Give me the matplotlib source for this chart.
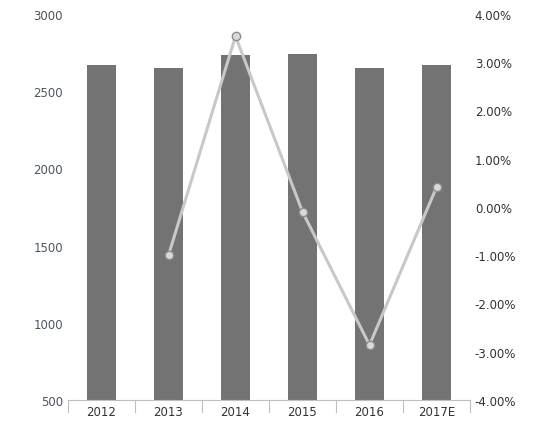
import matplotlib
matplotlib.use("Agg")
import matplotlib.pyplot as plt
import numpy as np

years = ["2012", "2013", "2014", "2015", "2016", "2017E"]
volume = [2670, 2650, 2735, 2738, 2652, 2670]
growth_years = ["2013", "2014", "2015", "2016", "2017E"]
growth = [-1.0, 3.54, -0.10, -2.86, 0.41]

fig = plt.figure(figsize=(5.35, 4.31), dpi=100)
ax = fig.add_axes([68/535, 30/431, 402/535, 386/431])
x = np.arange(len(years))
ax.bar(x, volume, width=0.43, color="#737373", bottom=0)
ax.set_ylim(500, 3000)
ax.set_xlim(-0.5, len(years) - 0.5)
ax.set_yticks(range(500, 3001, 500))
ax.set_xticks(x)
ax.set_xticklabels(years)
ax.tick_params(axis="both", length=0, labelsize=8.5, colors="#333333")
ax.tick_params(axis="y", colors="#4a5560")
for s in ["top", "right", "left"]:
    ax.spines[s].set_visible(False)
ax.spines["bottom"].set_color("#bfbfbf")
for xb in np.arange(-0.5, len(years), 1):
    ax.plot([xb, xb], [500, 420], color="#bfbfbf", lw=0.8, clip_on=False)

ax2 = ax.twinx()
gx = [years.index(y) for y in growth_years]
ax2.plot(gx, growth, color="#c8c8c8", lw=2.2, marker="o", markersize=6,
         markerfacecolor="#d9d9d9", markeredgecolor="#8c8c8c", markeredgewidth=1)
ax2.set_ylim(-4, 4)
ax2.set_yticks(range(-4, 5))
ax2.set_yticklabels([f"{v:.2f}%" for v in range(-4, 5)])
ax2.tick_params(axis="y", length=0, labelsize=8.5, colors="#333333")
for s in ["top", "right", "left", "bottom"]:
    ax2.spines[s].set_visible(False)

fig.savefig("out.png", dpi=100)
